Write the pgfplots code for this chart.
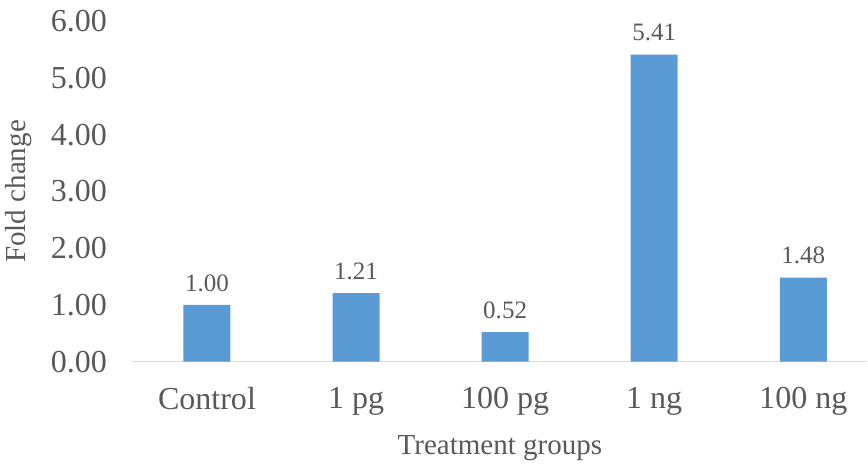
\documentclass[border={2pt 10pt 0pt 7pt}]{standalone}
\usepackage{fontspec}
\setmainfont{Liberation Serif}
\usepackage{pgfplots}
\pgfplotsset{compat=1.18}
\definecolor{barblue}{HTML}{5B9BD5}
\definecolor{txtgray}{HTML}{595959}
\definecolor{axgray}{HTML}{D9D9D9}
\begin{document}
\begin{tikzpicture}
\begin{axis}[
    scale only axis,
    width=734pt, height=340pt,
    ybar, bar width=47pt,
    xmin=-0.5, xmax=4.43,
    ymin=0, ymax=6,
    ytick={0,1,...,6},
    yticklabel style={/pgf/number format/fixed, /pgf/number format/fixed zerofill,
        /pgf/number format/precision=2, /pgf/number format/assume math mode=true, xshift=-22pt},
    xtick=data,
    xticklabels={Control, 1 pg, 100 pg, 1 ng, 100 ng},
    major tick length=0pt,
    axis lines*=left,
    y axis line style={draw=none},
    x axis line style={axgray, line width=1.2pt, -},
    ticklabel style={font=\fontsize{32}{32}\selectfont, text=txtgray},
    xticklabel style={yshift=-22pt},
    xlabel={Treatment groups},
    ylabel={Fold change},
    label style={font=\fontsize{29}{29}\selectfont, text=txtgray},
    xlabel style={yshift=-13pt},
    ylabel style={at={([xshift=-97pt]axis description cs:0,0.5)}, anchor=south},
    nodes near coords,
    nodes near coords style={font=\fontsize{25}{25}\selectfont, text=txtgray,
        /pgf/number format/fixed, /pgf/number format/fixed zerofill,
        /pgf/number format/precision=2, /pgf/number format/assume math mode=true, yshift=10pt},
]
\addplot[fill=barblue, draw=none] coordinates {
    (0, 1.00) (1, 1.21) (2, 0.52) (3, 5.41) (4, 1.48)
};
\end{axis}
\end{tikzpicture}
\end{document}
